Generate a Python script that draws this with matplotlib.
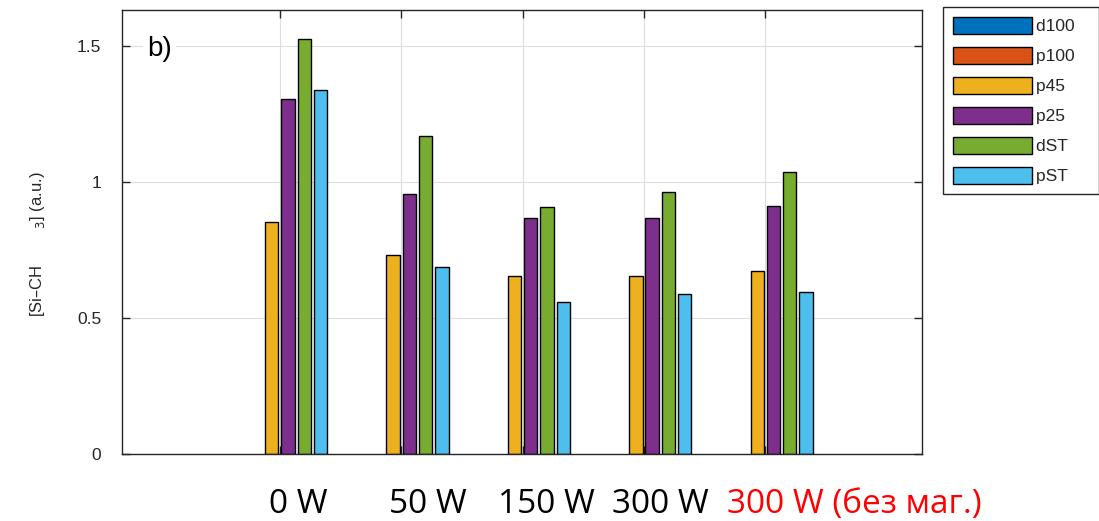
import matplotlib
matplotlib.use("Agg")
import matplotlib.pyplot as plt
from matplotlib.patches import Patch
import numpy as np

categories = ["0 W", "50 W", "150 W", "300 W", "300 W (без маг.)"]
series = ["d100", "p100", "p45", "p25", "dST", "pST"]
d100 = [0, 0, 0, 0, 0]
p100 = [0, 0, 0, 0, 0]
p45 = [0.853, 0.732, 0.654, 0.654, 0.673]
p25 = [1.305, 0.957, 0.866, 0.866, 0.910]
dST = [1.527, 1.169, 0.907, 0.964, 1.035]
pST = [1.338, 0.687, 0.559, 0.587, 0.595]
values = [d100, p100, p45, p25, dST, pST]
colors = ["#0072BD", "#D95319", "#EDB120", "#7E2F8E", "#77AC30", "#4DBEEE"]
yticks = [0, 0.5, 1, 1.5]
ytick_labels = ["0", "0.5", "1", "1.5"]

plt.rcParams['font.family'] = ['Liberation Sans', 'DejaVu Sans']

fig = plt.figure(figsize=(10.99, 5.21), dpi=100)
ax = fig.add_axes([122/1099, 67/521, 800/1099, 444/521])

x = np.arange(1, len(categories) + 1)
step = 0.134
width = 0.11
for i, (name, vals, c) in enumerate(zip(series, values, colors)):
    off = (i - 2.5) * step
    bars = ax.bar(x + off, vals, width, color=c, edgecolor='black', linewidth=1.0,
                  label=name, zorder=3)
    for p, v in zip(bars, vals):
        if v == 0:
            p.set_linewidth(0)

ax.set_xlim(-0.3, 6.29)
ax.set_ylim(0, 1.632)
ax.set_xticks(x)
ax.set_xticklabels([])
ax.set_yticks(yticks)
ax.set_yticklabels(ytick_labels, fontsize=12.5, color='#262626')
ax.tick_params(axis='both', direction='in', length=6, width=1, colors='#262626',
               top=True, right=True, labelcolor='#262626', pad=15)
ax.grid(True, color='#dddddd', linewidth=0.8, zorder=0)
for s in ax.spines.values():
    s.set_color('#262626')
    s.set_linewidth(1.0)
    s.set_zorder(5)

ax.set_ylabel("[Si–CH        $_{3}$] (a.u.)", fontsize=12, color='#262626')
ax.yaxis.set_label_coords(-0.094, 0.473)

ax.text(147/1099, 1 - 56/521, "b)", transform=fig.transFigure, fontsize=20,
        color='black', ha='left', va='baseline', zorder=6,
        bbox=dict(facecolor='white', edgecolor='none', pad=3))

# category labels below axis
label_x = [298, 428, 546, 660, 854]
label_colors = ['black', 'black', 'black', 'black', '#ff0000']
for lx, lab, col in zip(label_x, categories, label_colors):
    fig.text(lx/1099, 1 - 513/521, lab, fontsize=24, color=col, ha='center',
             va='baseline', family=['Open Sans', 'DejaVu Sans'])

handles = [Patch(facecolor=c, edgecolor='black', linewidth=1.0) for c in colors]
leg = fig.legend(handles=handles, labels=[s + "   " for s in series], loc='upper left',
                 bbox_to_anchor=(943/1099, 1 - 7/521), fontsize=12.5,
                 handlelength=4.6, handleheight=1.15, labelspacing=0.72,
                 handletextpad=0.2, borderpad=0.55, fancybox=False,
                 edgecolor='#262626', framealpha=1, borderaxespad=0)
leg.get_frame().set_linewidth(1.0)
for t in leg.get_texts():
    t.set_color('#262626')

fig.savefig("out.png", dpi=100)
